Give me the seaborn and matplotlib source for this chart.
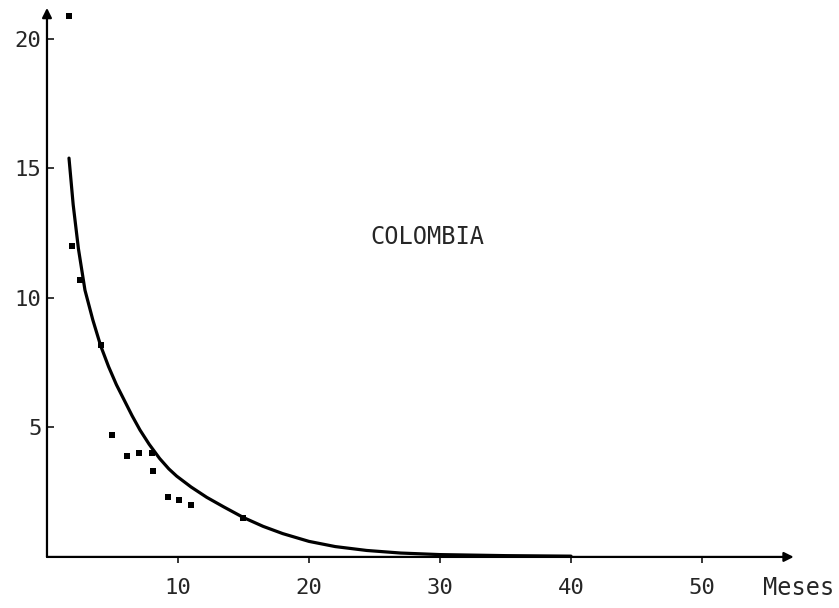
import numpy as np
import pandas as pd
import matplotlib
matplotlib.use("Agg")
import matplotlib.pyplot as plt
import seaborn as sns

# observaciones (meses, valor)
meses_obs = [1.7, 1.9, 2.5, 4.1, 5.0, 6.1, 7.0, 8.0, 8.1, 9.2, 10.1, 11.0, 15.0]
valores_obs = [20.9, 12.0, 10.7, 8.2, 4.7, 3.9, 4.0, 4.0, 3.3, 2.3, 2.2, 2.0, 1.5]

# curva ajustada
curva_x = [1.68, 2.0, 2.4, 2.9, 3.5, 4.1, 4.7, 5.3, 5.95, 6.5, 7.1, 7.8, 8.6,
           9.3, 9.9, 11.0, 12.2, 13.5, 15.0, 16.5, 18.0, 20.0, 22.0, 24.4,
           27.0, 30.0, 35.0, 40.0]
curva_y = [15.4, 13.6, 11.9, 10.3, 9.15, 8.15, 7.35, 6.65, 6.0, 5.45, 4.9,
           4.35, 3.8, 3.4, 3.12, 2.7, 2.3, 1.93, 1.52, 1.18, 0.9, 0.6, 0.4,
           0.25, 0.15, 0.09, 0.05, 0.03]

x_ticks = [10, 20, 30, 40, 50]
y_ticks = [5, 10, 15, 20]

sns.set_style("white")
plt.rcParams['font.family'] = ['DejaVu Sans Mono', 'DejaVu Sans']

fig = plt.figure(figsize=(8.39, 6.08), dpi=100)
ax = fig.add_axes([0.056, 0.084, 0.890, 0.903])

obs = pd.DataFrame({"meses": meses_obs, "valor": valores_obs})
curva = pd.DataFrame({"meses": curva_x, "valor": curva_y})

sns.lineplot(data=curva, x="meses", y="valor", color="black", linewidth=2.3,
             ax=ax, sort=False)
sns.scatterplot(data=obs, x="meses", y="valor", color="black", marker="s",
                s=14, linewidth=0, ax=ax, clip_on=False)

ax.set_xlim(0, 57)
ax.set_ylim(0, 21.2)
for s in ax.spines.values():
    s.set_visible(False)

# ejes con flechas
ax.annotate("", xy=(1, 0), xytext=(0, 0), xycoords="axes fraction",
            arrowprops=dict(arrowstyle="-|>", lw=1.6, color="black",
                            mutation_scale=14, shrinkA=0, shrinkB=0))
ax.annotate("", xy=(0, 1), xytext=(0, 0), xycoords="axes fraction",
            arrowprops=dict(arrowstyle="-|>", lw=1.6, color="black",
                            mutation_scale=14, shrinkA=0, shrinkB=0))

ax.set_xticks(x_ticks)
ax.set_yticks(y_ticks)
ax.tick_params(axis="x", direction="out", length=4, width=1.3, pad=11,
               labelsize=16, bottom=True)
ax.tick_params(axis="y", direction="in", length=5, width=1.3, pad=4,
               labelsize=16, left=True)
ax.set_xlabel("")
ax.set_ylabel("")

ax.text(29.0, 12.35, "COLOMBIA", fontsize=17, ha="center", va="center")
ax.text(57.4, -1.2, "Meses", fontsize=17, ha="center", va="center",
        clip_on=False)

plt.savefig("out.png", dpi=100)
